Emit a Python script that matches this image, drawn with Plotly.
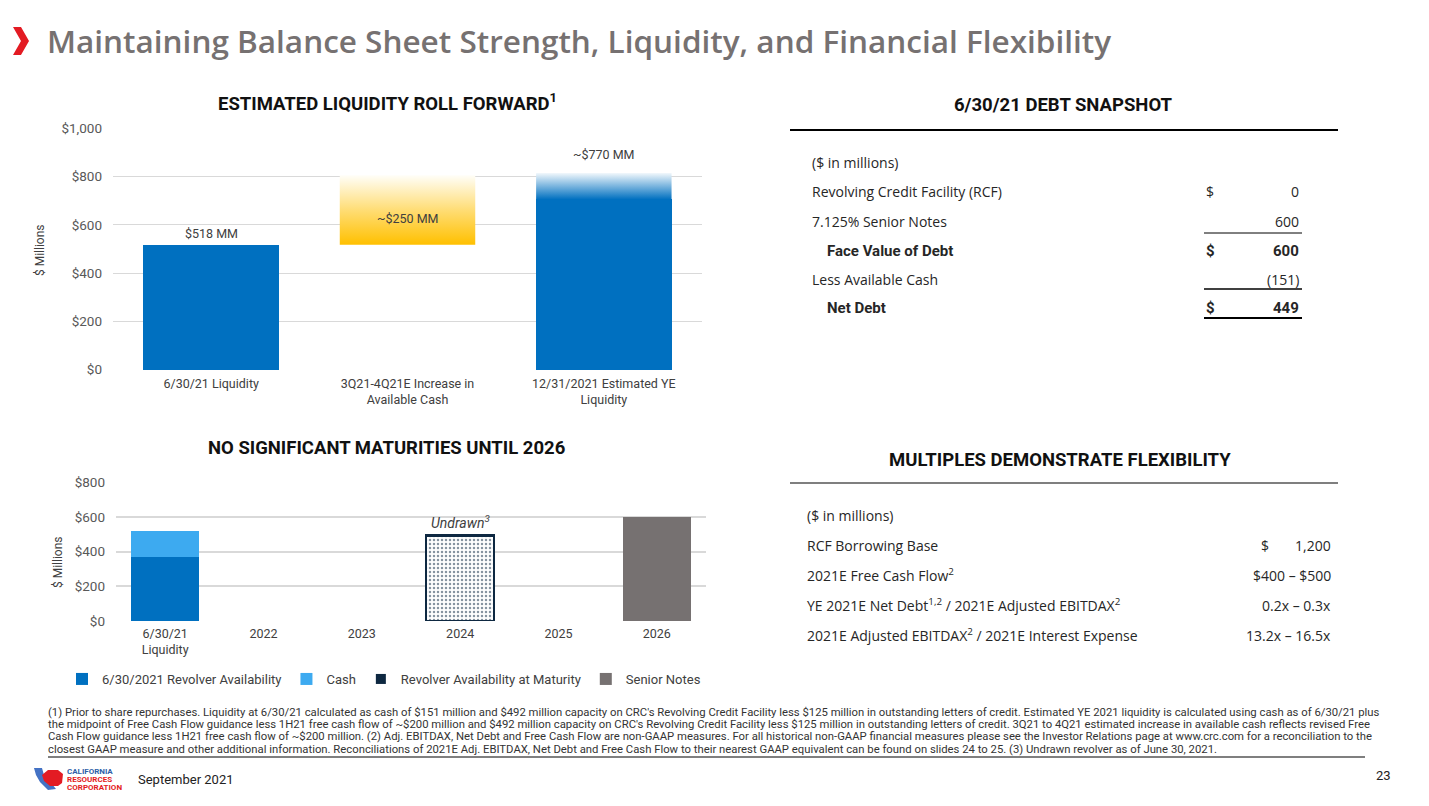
import plotly.graph_objects as go

W, H = 1429, 806
OFF = 8  # page body margin of the html page
FONT = "Roboto, Arial, sans-serif"
WIDE = "Open Sans, Roboto, Arial, sans-serif"
TXT = "#262626"
BLUE = "#0070C0"
LIGHT_BLUE = "#3DAAF0"
NAVY = "#0E2841"
GOLD = "#FFC000"
GREY = "#767171"

# ---- estimated liquidity roll forward ($MM)
roll_cats = ["6/30/21 Liquidity", "3Q21-4Q21E Increase in<br>Available Cash",
             "12/31/2021 Estimated YE<br>Liquidity"]
roll_labels = ["$518 MM", "~$250 MM", "~$770 MM"]
liquidity_start = 518
increase_value = 250
increase_range = [518, 805]   # faded yellow block (bottom, top)
ye_solid = 705                # solid part of the YE bar
ye_top = 815                  # top of the faded part of the YE bar
roll_ticks = [0, 200, 400, 600, 800, 1000]

# ---- maturities ($MM)
mat_cats = ["6/30/21<br>Liquidity", "2022", "2023", "2024", "2025", "2026"]
revolver_avail = [367, None, None, None, None, None]
cash = [151, None, None, None, None, None]
revolver_maturity = [None, None, None, 492, None, None]
senior_notes = [None, None, None, None, None, 600]
mat_ticks = [0, 200, 400, 600, 800]

# ---- debt snapshot table
debt_labels = ["Revolving Credit Facility (RCF)", "7.125% Senior Notes", "Face Value of Debt",
               "Less Available Cash", "Net Debt"]
debt_values = [0, 600, 600, -151, 449]
debt_dollar = [True, False, True, False, True]
debt_bold = [False, False, True, False, True]

# ---- multiples table
mult_labels = ["RCF Borrowing Base", "2021E Free Cash Flow<sup>2</sup>",
               "YE 2021E Net Debt<sup>1,2</sup> / 2021E Adjusted EBITDAX<sup>2</sup>",
               "2021E Adjusted EBITDAX<sup>2</sup> / 2021E Interest Expense"]
mult_values = ["1,200", "$400 – $500", "0.2x – 0.3x", "13.2x – 16.5x"]
mult_dollar = [True, False, False, False]

footnotes = [
    "(1) Prior to share repurchases. Liquidity at 6/30/21 calculated as cash of $151 million and $492 million capacity on CRC's Revolving Credit Facility less $125 million in outstanding letters of credit. Estimated YE 2021 liquidity is calculated using cash as of 6/30/21 plus",
    "the midpoint of Free Cash Flow guidance less 1H21 free cash flow of ~$200 million and $492 million capacity on CRC's Revolving Credit Facility less $125 million in outstanding letters of credit. 3Q21 to 4Q21 estimated increase in available cash reflects revised Free",
    "Cash Flow guidance less 1H21 free cash flow of ~$200 million. (2) Adj. EBITDAX, Net Debt and Free Cash Flow are non-GAAP measures. For all historical non-GAAP financial measures please see the Investor Relations page at www.crc.com for a reconciliation to the",
    "closest GAAP measure and other additional information. Reconciliations of 2021E Adj. EBITDAX, Net Debt and Free Cash Flow to their nearest GAAP equivalent can be found on slides 24 to 25. (3) Undrawn revolver as of June 30, 2021.",
]


def px(x):
    return (x - OFF) / W


def py(y):
    return 1 - (y - OFF) / H


annotations = []
shapes = []


def note(x, y, text, size=14, color=TXT, xanchor="left", family=WIDE, weight=None, **kw):
    font = dict(size=size, color=color, family=family)
    if weight:
        font["weight"] = weight
    annotations.append(dict(
        x=px(x), y=py(y), xref="paper", yref="paper", text=text, showarrow=False,
        xanchor=xanchor, yanchor="middle", borderpad=0, font=font, **kw))


def hline(x0, x1, y, width=1, color="#000000"):
    shapes.append(dict(type="line", xref="paper", yref="paper", x0=px(x0), x1=px(x1),
                       y0=py(y), y1=py(y), line=dict(color=color, width=width)))


def poly(points, color):
    d = "M" + " L".join(f"{px(a):.5f},{py(b):.5f}" for a, b in points) + " Z"
    shapes.append(dict(type="path", xref="paper", yref="paper", path=d,
                       fillcolor=color, line=dict(width=0)))


BAR_W = 0.69


def block(i, y0, y1):
    xs = [i - BAR_W / 2, i + BAR_W / 2, i + BAR_W / 2, i - BAR_W / 2, i - BAR_W / 2]
    ys = [y0, y0, y1, y1, y0]
    return xs, ys


fig = go.Figure()

# top chart
fig.add_trace(go.Bar(x=[0, 2], y=[liquidity_start, ye_solid], width=BAR_W,
                     marker=dict(color=BLUE, line=dict(width=0)),
                     showlegend=False, hoverinfo="skip", xaxis="x", yaxis="y"))
xs, ys = block(1, increase_range[0], increase_range[1])
fig.add_trace(go.Scatter(x=xs, y=ys, fill="toself", mode="lines", line=dict(width=0),
                         fillgradient=dict(type="vertical",
                                           colorscale=[[0, GOLD], [0.5, "#FFDD75"], [1, "#FFFEF8"]]),
                         showlegend=False, hoverinfo="skip", xaxis="x", yaxis="y"))
xs, ys = block(2, ye_solid, ye_top)
fig.add_trace(go.Scatter(x=xs, y=ys, fill="toself", mode="lines", line=dict(width=0),
                         fillgradient=dict(type="vertical",
                                           colorscale=[[0, BLUE], [1, "#F2F8FC"]]),
                         showlegend=False, hoverinfo="skip", xaxis="x", yaxis="y"))

label_font = dict(size=12.5, color="#404040", family=FONT)
annotations.append(dict(x=0, y=liquidity_start, xref="x", yref="y", text=roll_labels[0],
                        showarrow=False, yanchor="bottom", yshift=2, font=label_font))
annotations.append(dict(x=1, y=liquidity_start + increase_value / 2, xref="x", yref="y",
                        text=roll_labels[1], showarrow=False, yshift=-4, font=label_font))
annotations.append(dict(x=2, y=ye_top, xref="x", yref="y", text=roll_labels[2],
                        showarrow=False, yanchor="bottom", yshift=9, font=label_font))

# bottom chart
fig.add_trace(go.Bar(x=mat_cats, y=revolver_avail, name="6/30/2021 Revolver Availability",
                     width=BAR_W, marker=dict(color=BLUE, line=dict(width=0)),
                     xaxis="x2", yaxis="y2", hoverinfo="skip"))
fig.add_trace(go.Bar(x=mat_cats, y=cash, name="Cash", width=BAR_W,
                     marker=dict(color=LIGHT_BLUE, line=dict(width=0)),
                     xaxis="x2", yaxis="y2", hoverinfo="skip"))
fig.add_trace(go.Bar(x=mat_cats, y=revolver_maturity, name="Revolver Availability at Maturity",
                     width=BAR_W,
                     marker=dict(color="white", line=dict(color=NAVY, width=2.5),
                                 pattern=dict(shape=".", fgcolor=NAVY, bgcolor="white",
                                              size=4, solidity=0.3)),
                     showlegend=False, xaxis="x2", yaxis="y2", hoverinfo="skip"))
# solid swatch for the legend only
fig.add_trace(go.Scatter(x=[None], y=[None], mode="markers", name="Revolver Availability at Maturity",
                         marker=dict(color=NAVY, symbol="square", size=10),
                         xaxis="x2", yaxis="y2", hoverinfo="skip"))
fig.add_trace(go.Bar(x=mat_cats, y=senior_notes, name="Senior Notes", width=BAR_W,
                     marker=dict(color=GREY, line=dict(width=0)),
                     xaxis="x2", yaxis="y2", hoverinfo="skip"))

annotations.append(dict(x=mat_cats.index("2024"), y=revolver_maturity[3], xref="x2", yref="y2",
                        text="<i>Undrawn<sup>3</sup></i>", showarrow=False, yanchor="bottom",
                        yshift=3, font=dict(size=14, color="#404040", family=FONT)))

# titles and axis captions
note(46, 40, "Maintaining Balance Sheet Strength, Liquidity, and Financial Flexibility",
     size=31.5, color=GREY, family=WIDE, weight=600)
poly([(13, 27), (21, 27), (29, 41), (21, 55), (13, 55), (21, 41)], "#E31B23")

note(387, 103, "<b>ESTIMATED LIQUIDITY ROLL FORWARD<sup>1</sup></b>", size=18.5, color="#111111",
     xanchor="center", family=FONT)
note(386, 448, "<b>NO SIGNIFICANT MATURITIES UNTIL 2026</b>", size=18.5, color="#111111",
     xanchor="center", family=FONT)
note(40, 250, "$ Millions", size=12, color="#404040", xanchor="center", textangle=-90, family=FONT)
note(58, 562, "$ Millions", size=12, color="#404040", xanchor="center", textangle=-90, family=FONT)

# debt snapshot
note(1063, 105, "<b>6/30/21 DEBT SNAPSHOT</b>", size=18.5, color="#111111", xanchor="center",
     family=FONT)
hline(790, 1338, 130, width=2)
note(811, 162, "($ in millions)")
row_y = [192, 222, 251, 279, 308]
for lab, val, dol, bold, y in zip(debt_labels, debt_values, debt_dollar, debt_bold, row_y):
    txt = f"{val:,}" if val >= 0 else f"({-val:,})"
    if bold:
        note(826, y, f"<b>{lab}</b>", family=FONT, size=15)
        note(1300, y, f"<b>{txt}</b>", xanchor="right", family=FONT, size=15)
        if dol:
            note(1205, y, "<b>$</b>", family=FONT, size=15)
    else:
        note(811, y, lab)
        note(1300, y, txt, xanchor="right")
        if dol:
            note(1205, y, "<span style='color:#262626'>$</span>")
hline(1204, 1302, 233, width=1)
hline(1204, 1302, 289, width=1.6)
hline(1204, 1302, 318, width=2)

# multiples
note(1060, 460, "<b>MULTIPLES DEMONSTRATE FLEXIBILITY</b>", size=18.5, color="#111111",
     xanchor="center", family=FONT)
hline(790, 1338, 483, width=1.2)
note(806, 516, "($ in millions)")
mult_y = [545, 575, 605, 635]
for lab, val, dol, y in zip(mult_labels, mult_values, mult_dollar, mult_y):
    note(806, y, lab)
    note(1332, y, val, xanchor="right")
    if dol:
        note(1260, y, "$")

# footnotes and footer
for i, line in enumerate(footnotes):
    note(47, 712 + i * 12.4, line, size=11.3, color="#333333", family=FONT)
hline(48, 1365, 757, width=2, color="#7F7F7F")
note(137, 779, "September 2021", size=13, color="#222222", family=FONT)
note(1392, 775, "23", size=13, color="#222222", xanchor="right", family=FONT)

# logo
poly([(34, 768), (42, 768), (44, 775), (52, 784), (56, 789), (48, 790), (40, 782), (36, 775)], "#4472C4")
poly([(42, 775), (48, 770), (58, 770), (63, 774), (62, 783), (58, 786), (50, 786), (44, 781)], "#E31B23")
note(66, 771, "<b>CALIFORNIA</b>", size=8, color="#2E5FA8", family=FONT)
note(66, 779, "<b>RESOURCES</b>", size=8, color="#E31B23", family=FONT)
note(66, 787, "<b>CORPORATION</b>", size=8, color="#E31B23", family=FONT)

tick_font = dict(size=13.5, color="#595959", family=FONT)
cat_font = dict(size=12.5, color="#404040", family=FONT)
fig.update_layout(
    width=W, height=H,
    margin=dict(l=0, r=0, t=0, b=0, pad=0, autoexpand=False),
    paper_bgcolor="white", plot_bgcolor="white",
    barmode="stack",
    font=dict(family=FONT, color=TXT),
    showlegend=True,
    legend=dict(orientation="h", x=px(62), y=py(679), xanchor="left", yanchor="middle",
                font=dict(size=13, color="#404040", family=FONT), traceorder="normal",
                itemwidth=30, bgcolor="rgba(0,0,0,0)"),
    xaxis=dict(domain=[px(113), px(702)], range=[-0.5, 2.5], tickvals=[0, 1, 2],
               ticktext=roll_cats, showgrid=False, zeroline=False, showline=False,
               tickfont=cat_font, anchor="y", ticklabelstandoff=4, automargin=False,
               fixedrange=True),
    yaxis=dict(domain=[py(370), py(128)], range=[-1, 1001], tickvals=roll_ticks,
               ticktext=[f"${v:,}" for v in roll_ticks], showgrid=True, gridcolor="#D9D9D9",
               gridwidth=1, zeroline=False, tickfont=tick_font, anchor="x", ticklabelstandoff=10,
               automargin=False, fixedrange=True),
    xaxis2=dict(domain=[px(116), px(706)], type="category", range=[-0.5, 5.5],
                categoryorder="array", categoryarray=mat_cats, showgrid=False, zeroline=False,
                showline=False, tickfont=cat_font, anchor="y2", ticklabelstandoff=3,
                automargin=False, fixedrange=True),
    yaxis2=dict(domain=[py(621), py(482)], range=[-1, 801], tickvals=mat_ticks,
                ticktext=[f"${v:,}" for v in mat_ticks], showgrid=True, gridcolor="#D9D9D9",
                gridwidth=1.5, zeroline=False, tickfont=tick_font, anchor="x2",
                ticklabelstandoff=10, automargin=False, fixedrange=True),
    annotations=annotations,
    shapes=shapes,
)

fig.write_html("out.html")
